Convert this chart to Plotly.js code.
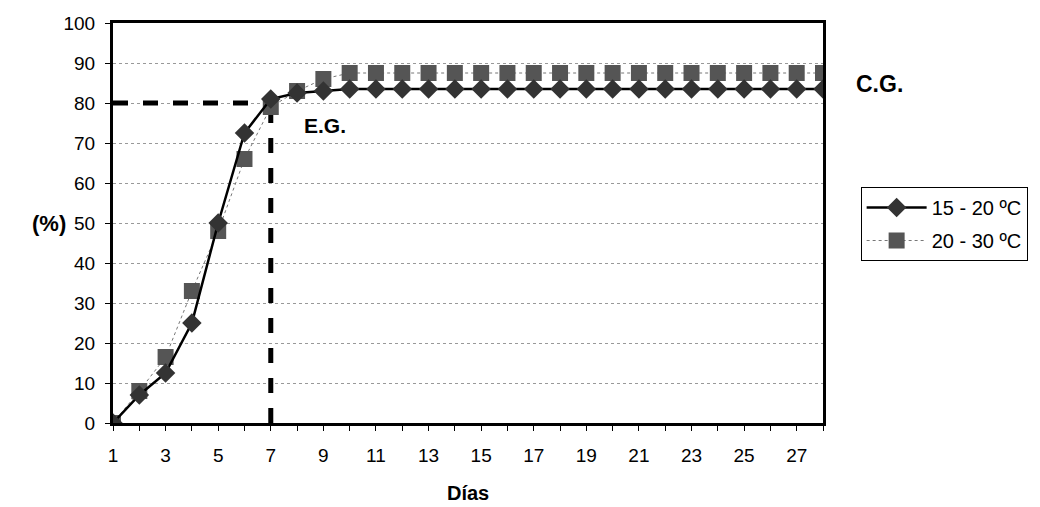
<!DOCTYPE html>
<html><head><meta charset="utf-8">
<script src="https://cdn.plot.ly/plotly-3.0.1.min.js"></script>
<style>body{margin:0;background:#fff}#c{width:1040px;height:507px}</style>
</head><body><div id="c"></div>
<script>
const days = [1,2,3,4,5,6,7,8,9,10,11,12,13,14,15,16,17,18,19,20,21,22,23,24,25,26,27,28];
const s1520 = [0,7,12.5,25,50,72.5,81,82.5,83,83.5,83.5,83.5,83.5,83.5,83.5,83.5,83.5,83.5,83.5,83.5,83.5,83.5,83.5,83.5,83.5,83.5,83.5,83.5];
const s2030 = [0,8,16.5,33,48,66,79,83,86,87.5,87.5,87.5,87.5,87.5,87.5,87.5,87.5,87.5,87.5,87.5,87.5,87.5,87.5,87.5,87.5,87.5,87.5,87.5];
const xTicks = [1,3,5,7,9,11,13,15,17,19,21,23,25,27];
const yTicks = [0,10,20,30,40,50,60,70,80,90,100];
const egX = [1,7], egY = [80,80];
const egVX = [7,7], egVY = [0,80];
const names = ['15 - 20 ºC','20 - 30 ºC'];

const font = 'Liberation Sans, Arial, sans-serif';
const traces = [
  {x: egX, y: egY, mode:'lines', line:{color:'#000', width:5, dash:'dash'}, showlegend:false, hoverinfo:'skip'},
  {x: egVX, y: egVY, mode:'lines', line:{color:'#000', width:5, dash:'dash'}, showlegend:false, hoverinfo:'skip'},
  {x: days, y: s2030, name: names[1], legendgroup:'b', legendrank:2, mode:'lines+markers',
   line:{color:'#777', width:1, dash:'dot'},
   marker:{symbol:'square', size:16, color:'#555'}},
  {x: days, y: s1520, name: names[0], legendgroup:'a', legendrank:1, mode:'lines+markers',
   line:{color:'#000', width:2.5},
   marker:{symbol:'diamond', size:15, color:'#333'}}
];
const pw = 1040-113-212, ph = 507-23-84;
const layout = {
  width:1040, height:507,
  margin:{l:113, r:212, t:23, b:84},
  paper_bgcolor:'#fff', plot_bgcolor:'#fff',
  font:{family:font, size:19, color:'#000'},
  showlegend:true,
  legend:{x:1.053, y:0.59, xanchor:'left', yanchor:'top', traceorder:'grouped',
    bordercolor:'#000', borderwidth:1, font:{size:20}, bgcolor:'#fff', tracegroupgap:4, itemwidth:60},
  xaxis:{range:[1,28], tickvals:xTicks, ticktext:xTicks.map(String), showgrid:false, zeroline:false,
    showline:true, linecolor:'#000', linewidth:3, mirror:true, ticks:'outside', ticklen:5, tickcolor:'#000',
    minor:{dtick:1, tick0:1, ticks:'outside', ticklen:5, tickcolor:'#000'},
    ticklabelstandoff:8, tickfont:{size:19}},
  yaxis:{range:[0,100], tickvals:yTicks, showgrid:true, gridcolor:'#999', griddash:'dot', gridwidth:1, zeroline:false,
    showline:true, linecolor:'#000', linewidth:3, mirror:true, ticks:'outside', ticklen:5, tickcolor:'#000',
    ticklabelstandoff:6, tickfont:{size:19}},
  annotations:[
    {x:8.2, y:74.5, xref:'x', yref:'y', text:'<b>E.G.</b>', showarrow:false, xanchor:'left', font:{size:21}},
    {x:1.044, y:84.7, xref:'paper', yref:'y', text:'<b>C.G.</b>', showarrow:false, xanchor:'left', font:{size:23}},
    {x:(49-113)/pw, y:(423-223)/ph, xref:'paper', yref:'paper', xanchor:'center', yanchor:'middle', text:'<b>(%)</b>', showarrow:false, font:{size:22}},
    {x:(470-113)/pw, y:(423-493)/ph, xref:'paper', yref:'paper', xanchor:'center', yanchor:'middle', text:'<b>Días</b>', showarrow:false, font:{size:20}}
  ]
};
Plotly.newPlot('c', traces, layout, {displayModeBar:false, staticPlot:true});
</script></body></html>
